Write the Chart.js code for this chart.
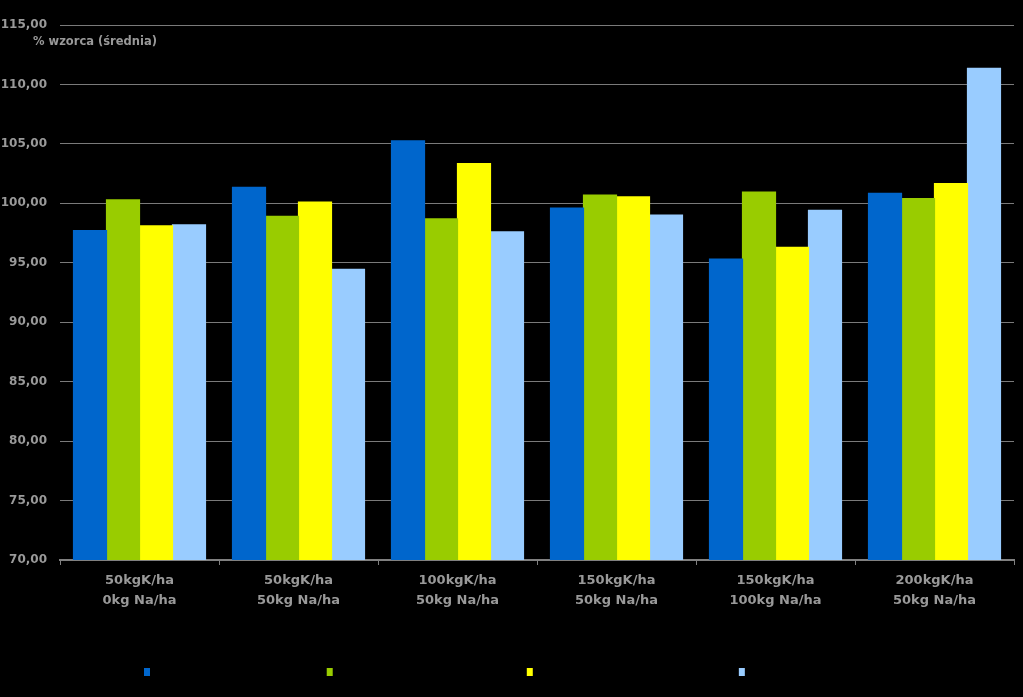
<!DOCTYPE html>
<html lang="pl">
<head>
<meta charset="UTF-8">
<title>% wzorca (średnia)</title>
<script src="https://cdn.jsdelivr.net/npm/chart.js"></script>
<style>
  html, body { margin: 0; padding: 0; background: #000; }
  #wrap { position: relative; width: 1023px; height: 697px; }
</style>
</head>
<body>
<div id="wrap"><canvas id="wykres"></canvas></div>
<script>
// dane
const kategorie = [
  ['50kgK/ha', '0kg Na/ha'],
  ['50kgK/ha', '50kg Na/ha'],
  ['100kgK/ha', '50kg Na/ha'],
  ['150kgK/ha', '50kg Na/ha'],
  ['150kgK/ha', '100kg Na/ha'],
  ['200kgK/ha', '50kg Na/ha']
];
const serie = [
  'Plon korzenia – średnia z lat',
  'Zawartość cukru – średnia z lat',
  'Plon cukru białego – średnia z lat',
  'Wydajność – średnia'
];
const seria1 = [97.7, 101.35, 105.25, 99.6, 95.3, 100.85];
const seria2 = [100.3, 98.9, 98.7, 100.7, 100.95, 100.4];
const seria3 = [98.1, 100.1, 103.35, 100.55, 96.3, 101.65];
const seria4 = [98.2, 94.45, 97.6, 99.0, 99.4, 111.35];
const kolory = ['#0066cc', '#99cc00', '#ffff00', '#99ccff'];

const szary = '#999999';
const czcionka = 'DejaVu Sans, sans-serif';

const tytulOsi = {
  id: 'tytulOsi',
  afterDraw(chart) {
    const c = chart.ctx;
    c.save();
    c.font = 'bold 11.5px ' + czcionka;
    c.fillStyle = szary;
    c.textBaseline = 'middle';
    c.fillText('% wzorca (średnia)', 33, 42);
    c.restore();
  }
};

new Chart(document.getElementById('wykres'), {
  type: 'bar',
  data: {
    labels: kategorie,
    datasets: [seria1, seria2, seria3, seria4].map((d, i) => ({
      label: serie[i],
      data: d,
      backgroundColor: kolory[i],
      borderWidth: 0,
      inflateAmount: 0.6,
      categoryPercentage: 0.83,
      barPercentage: 1.0
    }))
  },
  options: {
    responsive: true,
    maintainAspectRatio: false,
    animation: false,
    layout: { padding: { top: 25, right: 9, bottom: 9, left: 0 } },
    plugins: {
      tooltip: { enabled: false },
      legend: {
        position: 'bottom',
        labels: {
          boxWidth: 6,
          boxHeight: 8,
          padding: 10,
          color: '#000',
          font: { family: 'Liberation Sans, Arial, sans-serif', size: 12, weight: 'bold' }
        }
      }
    },
    scales: {
      x: {
        offset: true,
        grid: {
          display: true,
          drawOnChartArea: false,
          drawTicks: true,
          tickLength: 5,
          color: '#808080',
          offset: true
        },
        border: { display: true, color: '#808080', width: 2 },
        ticks: {
          color: szary,
          padding: 6,
          maxRotation: 0,
          font: { family: czcionka, size: 13, weight: 'bold', lineHeight: 1.5 }
        },
        afterFit(s) { s.height = 96; }
      },
      y: {
        min: 70,
        max: 115,
        grid: { color: '#7a7a7a', lineWidth: 1, drawTicks: false },
        border: { display: false },
        ticks: {
          stepSize: 5,
          padding: 13,
          color: szary,
          font: { family: czcionka, size: 12, weight: 'bold' },
          callback: v => v.toFixed(2).replace('.', ',')
        },
        afterFit(s) { s.width = 60; }
      }
    }
  },
  plugins: [tytulOsi]
});
</script>
</body>
</html>
